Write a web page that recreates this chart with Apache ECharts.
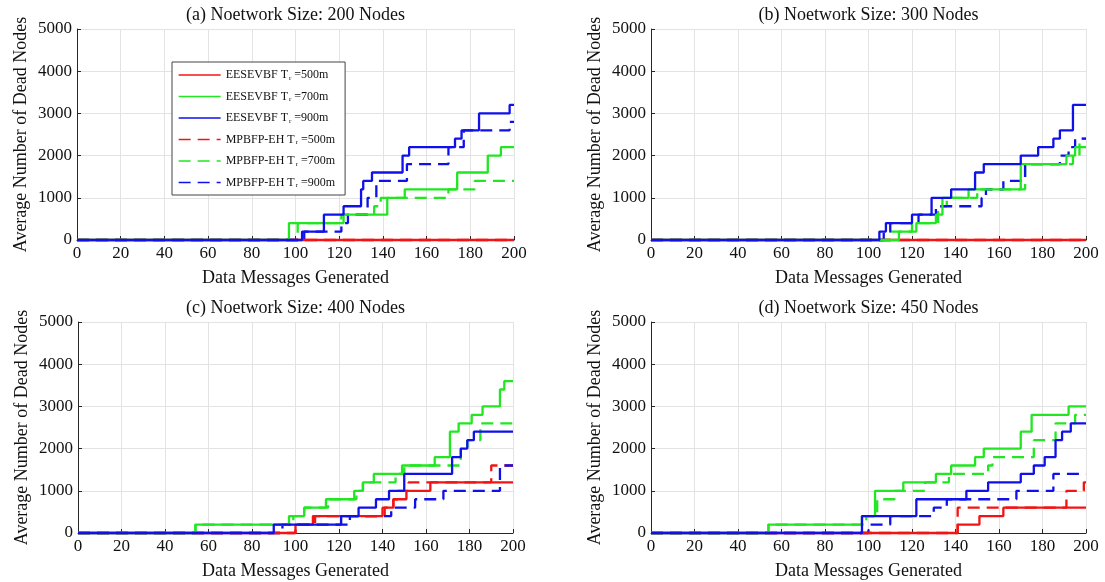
<!DOCTYPE html>
<html>
<head>
<meta charset="utf-8">
<title>Dead nodes</title>
<script src="https://cdn.jsdelivr.net/npm/echarts@6/dist/echarts.min.js"></script>
<style>
	html, body { margin: 0; padding: 0; background: #fff; }
	#chart { width: 1105px; height: 582px; }
</style>
</head>
<body>
<div id="chart"></div>
<script>
// legend names and panel titles
var seriesNames = ['EESEVBF T_r =500m', 'EESEVBF T_r =700m', 'EESEVBF T_r =900m',
	'MPBFP-EH T_r =500m', 'MPBFP-EH T_r =700m', 'MPBFP-EH T_r =900m'];
var panelTitles = ['(a) Noetwork Size: 200 Nodes', '(b) Noetwork Size: 300 Nodes',
	'(c) Noetwork Size: 400 Nodes', '(d) Noetwork Size: 450 Nodes'];

// (a) 200 nodes  [messages, dead nodes]
var a_eesevbf500 = [[0, 0], [200, 0]];
var a_eesevbf700 = [[0, 0], [97, 400], [122, 600], [142, 1000], [150, 1200], [174, 1600], [188, 2000], [194, 2200], [200, 2200]];
var a_eesevbf900 = [[0, 0], [103, 200], [113, 600], [122, 800], [130, 1200], [131, 1400], [135, 1600], [149, 2000], [152, 2200], [173, 2400], [176, 2600], [184, 3000], [198, 3200], [200, 3200]];
var a_mpbfp500 = [[0, 0], [200, 0]];
var a_mpbfp700 = [[0, 0], [101, 400], [121, 600], [136, 800], [139, 1000], [170, 1200], [182, 1400], [200, 1400]];
var a_mpbfp900 = [[0, 0], [104, 200], [121, 400], [124, 600], [133, 1000], [137, 1400], [151, 1800], [170, 2200], [177, 2600], [198, 2800], [200, 2800]];

// (b) 300 nodes
var b_eesevbf500 = [[0, 0], [200, 0]];
var b_eesevbf700 = [[0, 0], [114, 200], [122, 400], [131, 600], [134, 1000], [146, 1200], [170, 1800], [191, 2000], [195, 2200], [200, 2200]];
var b_eesevbf900 = [[0, 0], [105, 200], [108, 400], [120, 600], [129, 1000], [138, 1200], [149, 1600], [153, 1800], [170, 2000], [178, 2200], [185, 2400], [188, 2600], [194, 3200], [200, 3200]];
var b_mpbfp500 = [[0, 0], [200, 0]];
var b_mpbfp700 = [[0, 0], [110, 200], [120, 400], [132, 800], [136, 1000], [150, 1200], [172, 1800], [194, 2000], [197, 2400], [200, 2400]];
var b_mpbfp900 = [[0, 0], [107, 200], [110, 400], [123, 600], [131, 800], [152, 1000], [154, 1200], [162, 1400], [172, 1800], [188, 2000], [192, 2200], [195, 2400], [200, 2400]];

// (c) 400 nodes
var c_eesevbf500 = [[0, 0], [100, 200], [108, 400], [140, 600], [145, 800], [151, 1000], [162, 1200], [200, 1200]];
var c_eesevbf700 = [[0, 0], [54, 200], [97, 400], [104, 600], [114, 800], [127, 1000], [131, 1200], [136, 1400], [149, 1600], [164, 1800], [171, 2400], [175, 2600], [181, 2800], [186, 3000], [194, 3400], [196, 3600], [200, 3600]];
var c_eesevbf900 = [[0, 0], [90, 200], [121, 400], [129, 600], [137, 800], [143, 1000], [150, 1400], [172, 1800], [176, 2000], [179, 2200], [182, 2400], [200, 2400]];
var c_mpbfp500 = [[0, 0], [100, 200], [109, 400], [141, 600], [145, 800], [147, 1000], [152, 1200], [190, 1600], [200, 1600]];
var c_mpbfp700 = [[0, 0], [54, 200], [99, 400], [104, 600], [115, 800], [128, 1000], [131, 1200], [146, 1400], [150, 1600], [176, 2000], [179, 2200], [185, 2600], [200, 2600]];
var c_mpbfp900 = [[0, 0], [94, 200], [125, 400], [144, 600], [155, 800], [168, 1000], [194, 1600], [200, 1600]];

// (d) 450 nodes
var d_eesevbf500 = [[0, 0], [141, 200], [151, 400], [162, 600], [200, 600]];
var d_eesevbf700 = [[0, 0], [54, 200], [97, 400], [103, 1000], [116, 1200], [131, 1400], [138, 1600], [149, 1800], [153, 2000], [170, 2400], [175, 2800], [192, 3000], [200, 3000]];
var d_eesevbf900 = [[0, 0], [97, 400], [122, 800], [145, 1000], [155, 1200], [170, 1400], [176, 1600], [181, 1800], [186, 2200], [189, 2400], [193, 2600], [200, 2600]];
var d_mpbfp500 = [[0, 0], [141, 600], [191, 1000], [199, 1200], [200, 1200]];
var d_mpbfp700 = [[0, 0], [54, 200], [99, 400], [104, 800], [112, 1000], [126, 1200], [137, 1400], [155, 1600], [157, 1800], [176, 2200], [186, 2600], [195, 2800], [200, 2800]];
var d_mpbfp900 = [[0, 0], [100, 200], [110, 400], [130, 600], [136, 800], [168, 1000], [185, 1400], [200, 1400]];

var panelData = [
	[a_eesevbf500, a_eesevbf700, a_eesevbf900, a_mpbfp500, a_mpbfp700, a_mpbfp900],
	[b_eesevbf500, b_eesevbf700, b_eesevbf900, b_mpbfp500, b_mpbfp700, b_mpbfp900],
	[c_eesevbf500, c_eesevbf700, c_eesevbf900, c_mpbfp500, c_mpbfp700, c_mpbfp900],
	[d_eesevbf500, d_eesevbf700, d_eesevbf900, d_mpbfp500, d_mpbfp700, d_mpbfp900]
];

var lineColors = ['#f21414', '#22e622', '#1010e8', '#f21414', '#22e622', '#1010e8'];
var lineTypes = ['solid', 'solid', 'solid', [12, 7], [12, 7], [12, 7]];
// dashed ones go underneath, the blue solid line ends up on top
var drawOrder = [3, 4, 5, 0, 1, 2];
var font = 'Liberation Serif, Times New Roman, serif';

var grids = [
	{left: 77, top: 29, width: 437, height: 211},
	{left: 651, top: 29, width: 435, height: 211},
	{left: 78, top: 322, width: 435, height: 211},
	{left: 651, top: 322, width: 435, height: 211}
];

var titles = [], xAxes = [], yAxes = [], series = [];
for (var i = 0; i < 4; i++) {
	var g = grids[i];
	titles.push({
		text: panelTitles[i],
		left: g.left + g.width / 2,
		top: g.top - 23,
		textAlign: 'center',
		padding: 0,
		textStyle: {fontFamily: font, fontSize: 18, fontWeight: 'normal', color: '#111'}
	});
	xAxes.push({
		gridIndex: i,
		type: 'value',
		min: 0,
		max: 200,
		interval: 20,
		name: 'Data Messages Generated',
		nameLocation: 'middle',
		nameGap: 29,
		nameTextStyle: {fontFamily: font, fontSize: 18, color: '#111'},
		axisLine: {lineStyle: {color: '#262626', width: 1}},
		axisTick: {inside: true, length: 4, lineStyle: {color: '#262626'}},
		axisLabel: {fontFamily: font, fontSize: 17, color: '#111', margin: 5},
		splitLine: {show: true, lineStyle: {color: '#e3e3e3', width: 1}}
	});
	yAxes.push({
		gridIndex: i,
		type: 'value',
		min: 0,
		max: 5000,
		interval: 1000,
		name: 'Average Number of Dead Nodes',
		nameLocation: 'middle',
		nameGap: 47,
		nameTextStyle: {fontFamily: font, fontSize: 18, color: '#111'},
		axisLine: {show: true, lineStyle: {color: '#262626', width: 1}},
		axisTick: {show: true, inside: true, length: 4, lineStyle: {color: '#262626'}},
		axisLabel: {
			fontFamily: font, fontSize: 17, color: '#111', margin: 5,
			formatter: function(v) { return String(v); }
		},
		splitLine: {show: true, lineStyle: {color: '#e3e3e3', width: 1}}
	});
	for (var n = 0; n < 6; n++) {
		var k = drawOrder[n];
		series.push({
			name: seriesNames[k],
			type: 'line',
			step: 'end',
			xAxisIndex: i,
			yAxisIndex: i,
			symbol: 'none',
			clip: false,
			z: 5,
			animation: false,
			lineStyle: {color: lineColors[k], width: 2.3, type: lineTypes[k]},
			itemStyle: {color: lineColors[k]},
			data: panelData[i][k]
		});
	}
}

var option = {
	backgroundColor: '#fff',
	title: titles,
	legend: {
		data: seriesNames,
		orient: 'vertical',
		left: 172,
		top: 62,
		padding: [7, 10, 6, 6],
		itemWidth: 42,
		itemHeight: 12,
		itemGap: 9,
		backgroundColor: '#fff',
		borderColor: '#444',
		borderWidth: 1,
		borderRadius: 0,
		lineStyle: {width: 1.3},
		itemStyle: {opacity: 0, borderWidth: 0},
		formatter: function(name) {
			return name.replace('T_r', 'T{s|r}');
		},
		textStyle: {
			fontFamily: font,
			fontSize: 12,
			color: '#111',
			rich: {
				s: {fontFamily: font, fontSize: 7, color: '#111', verticalAlign: 'bottom', padding: [6, 0, 0, 1]}
			}
		}
	},
	grid: grids,
	xAxis: xAxes,
	yAxis: yAxes,
	series: series
};

var chart = echarts.init(document.getElementById('chart'));
chart.setOption(option);
</script>
</body>
</html>
